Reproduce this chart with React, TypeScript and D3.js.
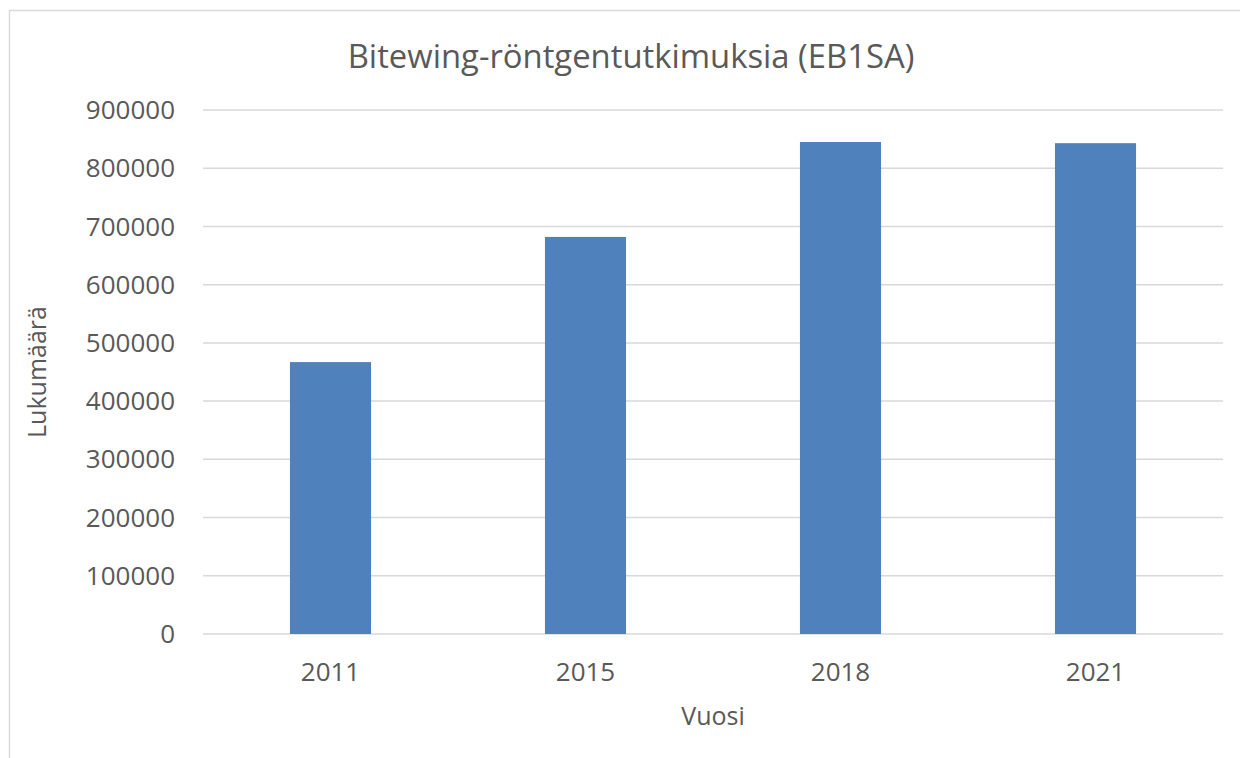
import React from "react";
import * as d3 from "d3";

const years = ["2011", "2015", "2018", "2021"];
const counts = [467000, 682000, 845000, 843000];
const yTicks = [0, 100000, 200000, 300000, 400000, 500000, 600000, 700000, 800000, 900000];
const title = "Bitewing-röntgentutkimuksia (EB1SA)";
const xTitle = "Vuosi";
const yTitle = "Lukumäärä";

export default function App() {
  const W = 1240, H = 758;
  const left = 203, right = 1223, top = 110, bottom = 634;
  const x = d3.scaleBand<string>().domain(years).range([left, right]).paddingInner(0.682).paddingOuter(0.341);
  const y = d3.scaleLinear().domain([0, 900000]).range([bottom, top]);
  const font = "'Open Sans', 'Noto Sans', sans-serif";
  const txt = "#595959";
  return (
    <svg width={W} height={H} style={{ position: "absolute", left: 0, top: 0, background: "#fff" }} fontFamily={font}>
      <rect x={0} y={0} width={W} height={H} fill="#fff" />
      <path d={`M9.5,${H} V10.5 H${W}`} fill="none" stroke="#d9d9d9" strokeWidth={1.5} />
      <text x={631} y={68} textAnchor="middle" fontSize={32.8} fill={txt}>{title}</text>
      {yTicks.map((t) => (
        <g key={t}>
          <line x1={left} x2={right} y1={y(t)} y2={y(t)} stroke="#d9d9d9" strokeWidth={1.5} />
          <text x={175} y={y(t)} dy="0.35em" textAnchor="end" fontSize={26} fill={txt}>{t}</text>
        </g>
      ))}
      {years.map((yr, i) => (
        <g key={yr}>
          <rect x={x(yr)} y={y(counts[i])} width={x.bandwidth()} height={bottom - y(counts[i])} fill="#4f81bd" />
          <text x={(x(yr) as number) + x.bandwidth() / 2} y={681} textAnchor="middle" fontSize={26} fill={txt}>{yr}</text>
        </g>
      ))}
      <text x={713} y={725} textAnchor="middle" fontSize={25} fill={txt}>{xTitle}</text>
      <text transform={`translate(46,372) rotate(-90)`} textAnchor="middle" fontSize={25} fill={txt}>{yTitle}</text>
    </svg>
  );
}
